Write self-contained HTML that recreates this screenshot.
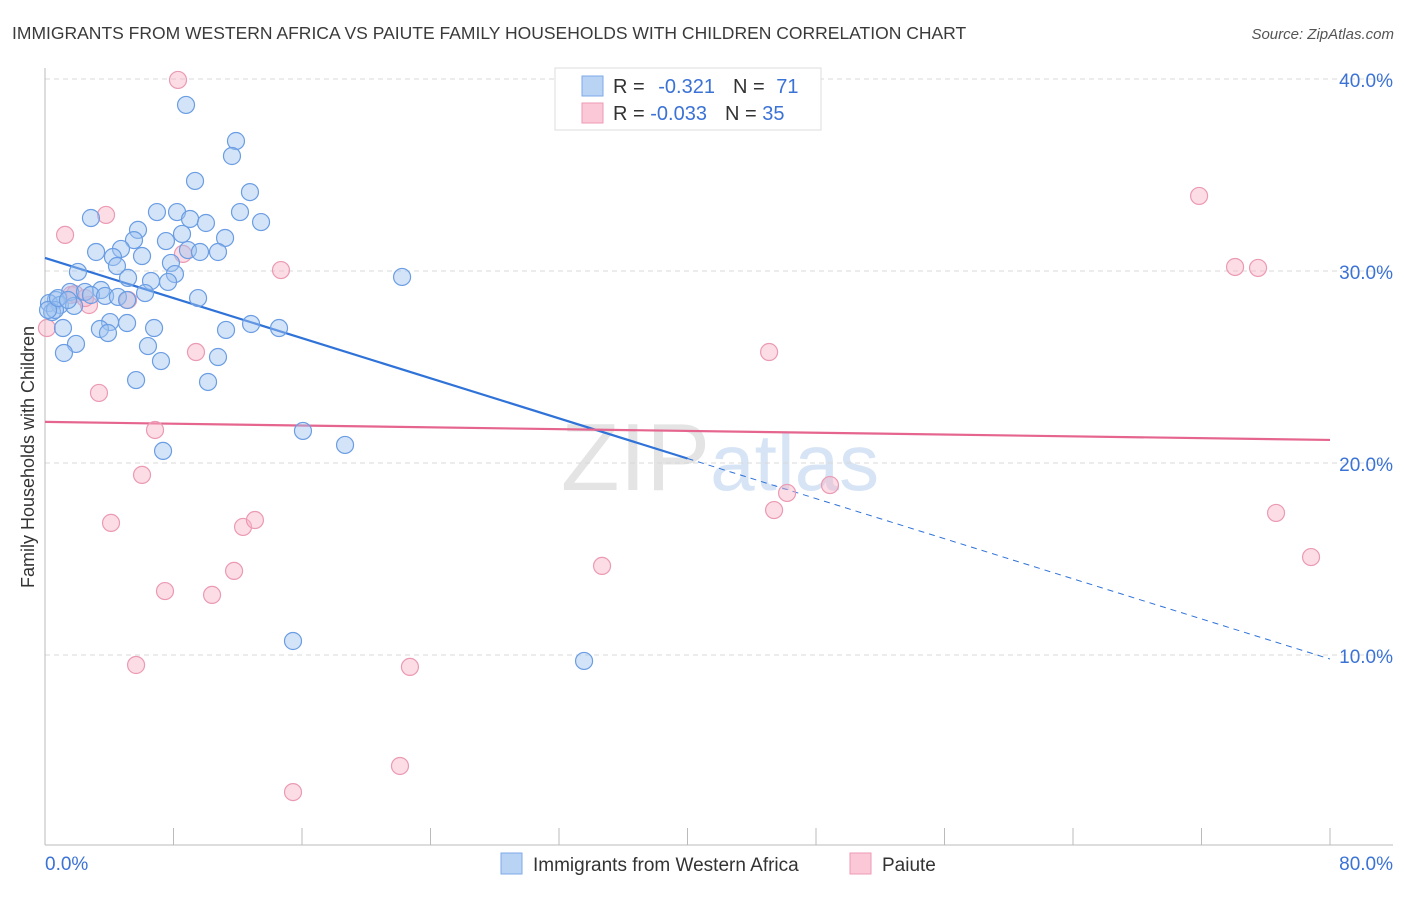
<!DOCTYPE html>
<html><head><meta charset="utf-8"><style>
body{margin:0;background:#fff;font-family:"Liberation Sans",sans-serif;}
svg text{font-family:"Liberation Sans",sans-serif;}
</style></head><body>
<svg id="chart" width="1406" height="892" xmlns="http://www.w3.org/2000/svg">
<text x="12" y="39" font-size="17.5" fill="#3a3a3a">IMMIGRANTS FROM WESTERN AFRICA VS PAIUTE FAMILY HOUSEHOLDS WITH CHILDREN CORRELATION CHART</text>
<text x="1394" y="39" font-size="15" fill="#555" font-style="italic" text-anchor="end">Source: ZipAtlas.com</text>
<text x="720" y="490" font-size="96" fill="#e4e4e4" text-anchor="middle" font-family="Liberation Serif">ZIP<tspan fill="#d6e4f5" font-family="Liberation Sans" font-size="80">atlas</tspan></text>
<g id="grid"></g>
<g id="axes"></g>
<g id="lines"></g>
<g id="points"></g>
<text transform="translate(34,457) rotate(-90)" font-size="18" fill="#333" text-anchor="middle">Family Households with Children</text>
<g>
<rect x="555" y="68" width="266" height="62" fill="#fff" stroke="#ddd"/>
<rect x="582" y="76" width="21" height="20" fill="#b9d3f5" stroke="#7eaae8"/>
<rect x="582" y="103" width="21" height="20" fill="#fbc8d7" stroke="#ef9ab4"/>
<text x="613" y="93" font-size="20" fill="#333">R = <tspan fill="#3b72d6" dx="8">-0.321</tspan><tspan fill="#333" dx="18">N = </tspan><tspan fill="#3b72d6" dx="6">71</tspan></text>
<text x="613" y="120" font-size="20" fill="#333">R = <tspan fill="#3b72d6">-0.033</tspan><tspan fill="#333" dx="18">N = </tspan><tspan fill="#3b72d6">35</tspan></text>
</g>
<g>
<rect x="501" y="853" width="21" height="21" fill="#b9d3f5" stroke="#7eaae8"/>
<text x="533" y="871" font-size="19" fill="#333">Immigrants from Western Africa</text>
<rect x="850" y="853" width="21" height="21" fill="#fbc8d7" stroke="#ef9ab4"/>
<text x="882" y="871" font-size="19" fill="#333">Paiute</text>
</g>
</svg>
<script>
const blueX=[8.78,11.89,11.64,9.34,12.76,6.97,8.22,12.14,2.86,9.03,10.02,13.45,5.79,8.53,5.54,7.53,11.21,3.18,4.73,4.23,6.04,8.9,10.77,9.65,4.48,7.84,2.05,8.09,5.17,6.6,7.66,22.23,1.56,2.49,3.49,2.86,3.74,6.23,4.54,9.53,5.11,0.68,0.25,0.93,1.81,0.44,0.62,4.05,5.11,6.79,3.42,11.27,12.83,14.57,1.12,3.92,6.41,1.93,1.18,10.77,7.22,5.67,10.15,16.06,18.68,7.35,15.44,33.56,0.19,0.81,1.43];
const blueY=[38.65,36.77,35.99,34.69,34.11,33.07,33.07,33.07,32.76,32.71,32.5,32.55,32.14,31.93,31.61,31.56,31.72,30.99,31.15,30.73,30.78,31.09,30.99,30.99,30.26,30.42,29.95,29.84,29.64,29.48,29.43,29.69,28.91,28.91,29.01,28.75,28.7,28.85,28.65,28.59,28.49,28.49,28.33,28.23,28.18,27.86,27.97,27.34,27.29,27.03,26.98,26.93,27.24,27.03,27.03,26.77,26.09,26.2,25.73,25.52,25.31,24.32,24.22,21.67,20.94,20.63,10.73,9.69,27.97,28.59,28.49];
const pinkX=[8.28,3.8,1.25,14.69,8.59,9.4,1.62,2.74,5.17,0.12,3.36,6.85,6.04,4.11,12.33,13.07,11.77,7.47,10.4,5.67,22.72,22.1,15.44,34.68,45.08,45.39,46.2,48.87,71.85,74.09,75.52,76.64,78.82,1.87,2.49];
const pinkY=[39.95,32.92,31.88,30.05,30.89,25.78,28.75,28.23,28.49,27.03,23.65,21.72,19.38,16.88,16.67,17.03,14.38,13.33,13.13,9.48,9.38,4.22,2.86,14.64,25.78,17.55,18.44,18.85,33.91,30.21,30.16,17.4,15.1,28.8,28.59];
const yTicks=[10,20,30,40];
const yTickLabels=["10.0%","20.0%","30.0%","40.0%"];
const xTicks=[0,8,16,24,32,40,48,56,64,72,80];
const blueTrend=[30.68,9.79];
const pinkTrend=[22.14,21.2];
const NS="http://www.w3.org/2000/svg";
const sx=v=>45+v*1285/80;
const sy=v=>847-v*19.2;
function mk(parent,tag,attrs){const e=document.createElementNS(NS,tag);for(const k in attrs)e.setAttribute(k,attrs[k]);document.getElementById(parent).appendChild(e);return e;}
yTicks.forEach((t,i)=>{
 const l=mk('grid','line',{x1:45,x2:1393,y1:sy(t),y2:sy(t),stroke:'#d8d8d8','stroke-dasharray':'5,4'});
 
 
 const tx=mk('grid','text',{x:1393,y:sy(t)+8,'font-size':19,fill:'#3b72d6','text-anchor':'end'});
 tx.textContent=yTickLabels[i];
 
 
});
let a=mk('axes','line',{x1:45,x2:45,y1:68,y2:845,stroke:'#bbb'});


a=mk('axes','line',{x1:45,x2:1393,y1:845,y2:845,stroke:'#bbb'});


xTicks.forEach(t=>{
 const l=mk('axes','line',{x1:sx(t),x2:sx(t),y1:828,y2:845,stroke:'#bbb'});
 
 
});
let t0=mk('axes','text',{x:45,y:870,'font-size':19,fill:'#3b72d6'});t0.textContent='0.0%';


let t1=mk('axes','text',{x:1393,y:870,'font-size':19,fill:'#3b72d6','text-anchor':'end'});t1.textContent='80.0%';


function dot(x,y,fill,stroke,name){
 const c=mk('points','circle',{cx:sx(x),cy:sy(y),r:8.5,fill:fill,stroke:stroke,'stroke-width':1.2});
 
 
}
pinkX.forEach((x,i)=>dot(x,pinkY[i],'rgba(248,180,200,0.45)','#eb9ab3','paiute-point'));
blueX.forEach((x,i)=>dot(x,blueY[i],'rgba(160,196,240,0.45)','#6a9de3','western-africa-point'));
const bmid=blueTrend[0]+(blueTrend[1]-blueTrend[0])*0.5;
let b1=mk('lines','line',{x1:sx(0),y1:sy(blueTrend[0]),x2:sx(40),y2:sy(bmid),stroke:'#2f72d8','stroke-width':2.2});


let b2=mk('lines','line',{x1:sx(40),y1:sy(bmid),x2:sx(80),y2:sy(blueTrend[1]),stroke:'#2f72d8','stroke-width':1,'stroke-dasharray':'6,5'});


let p1=mk('lines','line',{x1:sx(0),y1:sy(pinkTrend[0]),x2:sx(80),y2:sy(pinkTrend[1]),stroke:'#e5658e','stroke-width':2.2});


</script>
</body></html>
